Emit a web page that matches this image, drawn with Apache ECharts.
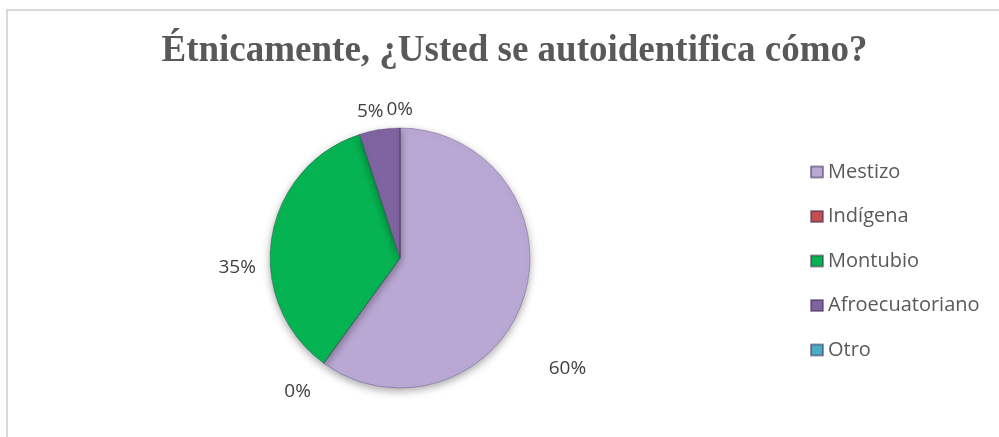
<!DOCTYPE html>
<html>
<head>
<meta charset="utf-8">
<script src="https://cdn.jsdelivr.net/npm/echarts@6/dist/echarts.min.js"></script>
<style>
  html, body { margin: 0; padding: 0; background: #fff; }
  #chart { width: 999px; height: 437px; }
</style>
</head>
<body>
<div id="chart"></div>
<script>
var dom = document.getElementById('chart');
var myChart = echarts.init(dom, null, { renderer: 'canvas' });

var titleText = 'Étnicamente, ¿Usted se autoidentifica cómo?';
var categories = ['Mestizo', 'Indígena', 'Montubio', 'Afroecuatoriano', 'Otro'];
var values = [60, 0, 35, 5, 0];
const colors = ['#BAA8D4', '#C0504D', '#06B352', '#8064A2', '#4BACC6'];

// Excel "best fit" moves a few labels; small nudges (px) per slice
var labelNudge = { 0: [-3, 64], 1: [8, 12], 2: [13, 33], 3: [16, 2], 4: [22, 2] };

var option = {
    color: colors,
    title: {
        text: titleText,
        left: '51%',
        textAlign: 'center',
        top: 28,
        textStyle: {
            fontFamily: 'Liberation Serif',
            fontWeight: 'bold',
            fontSize: 37,
            color: '#595959'
        }
    },
    graphic: [{
        type: 'rect',
        shape: { x: 7, y: 10, width: 1100, height: 500 },
        style: { fill: 'none', stroke: '#D9D9D9', lineWidth: 2 },
        silent: true
    }],
    legend: {
        orient: 'vertical',
        left: 805,
        top: 157,
        itemGap: 24.5,
        itemWidth: 12,
        itemHeight: 11,
        icon: 'rect',
        textStyle: {
            fontFamily: 'Open Sans',
            fontSize: 20,
            color: '#595959'
        },
        data: categories
    },
    series: [{
        type: 'pie',
        center: [400, 258],
        radius: 130,
        startAngle: 90,
        clockwise: true,
        avoidLabelOverlap: false,
        minShowLabelAngle: 0,
        label: {
            show: true,
            position: 'outside',
            formatter: '{d}%',
            fontFamily: 'Open Sans',
            fontSize: 19,
            color: '#404040'
        },
        labelLine: { show: false, length: 20, length2: 4 },
        labelLayout: function (params) {
            var n = labelNudge[params.dataIndex] || [0, 0];
            return { dx: n[0], dy: n[1], hideOverlap: false };
        },
        itemStyle: {
            borderColor: 'rgba(60,40,80,0.5)',
            borderWidth: 0.6,
            shadowColor: 'rgba(0,0,0,0.35)',
            shadowBlur: 8,
            shadowOffsetY: 3
        },
        emphasis: { disabled: true },
        data: categories.map(function (c, i) {
            return { name: c, value: values[i] };
        })
    }]
};

myChart.setOption(option);
</script>
</body>
</html>
